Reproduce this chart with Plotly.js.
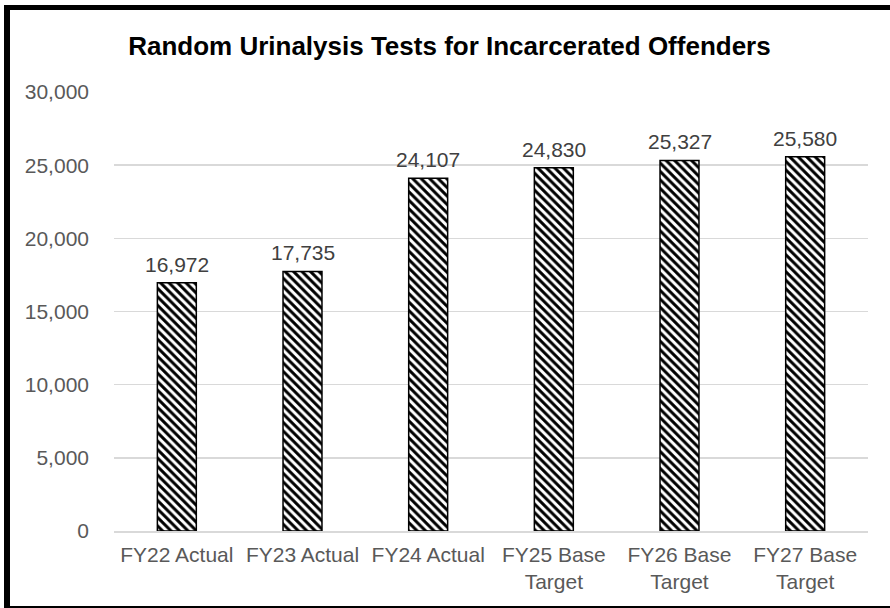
<!DOCTYPE html>
<html>
<head>
<meta charset="utf-8">
<script src="https://cdn.plot.ly/plotly-3.0.1.min.js"></script>
<style>
html,body{margin:0;padding:0;background:#fff;}
#wrap{position:relative;width:890px;height:608px;overflow:hidden;}
#chart{position:absolute;left:0;top:0;width:890px;height:608px;}
#frame{position:absolute;left:4px;top:5px;width:900px;height:603px;box-sizing:border-box;border-left:6px solid #000;border-top:5px solid #000;border-bottom:2px solid #000;pointer-events:none;}
</style>
</head>
<body>
<div id="wrap"><div id="chart"></div><div id="frame"></div></div>
<script>
var categories = ["FY22 Actual", "FY23 Actual", "FY24 Actual", "FY25 Base<br>Target", "FY26 Base<br>Target", "FY27 Base<br>Target"];
var values = [16972, 17735, 24107, 24830, 25327, 25580];
var labels = ["16,972", "17,735", "24,107", "24,830", "25,327", "25,580"];
var tickVals = [0, 5000, 10000, 15000, 20000, 25000, 30000];
var tickText = ["0", "5,000", "10,000", "15,000", "20,000", "25,000", "30,000"];

var font = "Liberation Sans, Arial, sans-serif";
var trace = {
  type: "bar",
  x: categories,
  y: values,
  marker: {
    color: "#ffffff",
    line: {color: "#000000", width: 1.5},
    pattern: {shape: "\\", fgcolor: "#000000", bgcolor: "#ffffff", size: 6, solidity: 0.5, fillmode: "replace"}
  },
  hoverinfo: "none"
};
var annotations = categories.map(function (c, i) {
  return {
    x: c, y: values[i], xref: "x", yref: "y",
    text: labels[i], showarrow: false,
    xanchor: "center", yanchor: "bottom", yshift: 5,
    font: {family: font, size: 21, color: "#404040"}
  };
});
var layout = {
  width: 890, height: 608,
  margin: {l: 114, r: 22, t: 92, b: 77},
  paper_bgcolor: "#ffffff", plot_bgcolor: "#ffffff",
  showlegend: false,
  bargap: 0.69,
  annotations: annotations,
  title: {text: "<b>Random Urinalysis Tests for Incarcerated Offenders</b>", font: {family: font, size: 26, color: "#000000"}, x: 0.505, xanchor: "center", xref: "container", y: 0.925, yanchor: "middle", yref: "container"},
  xaxis: {
    type: "category",
    tickfont: {family: font, size: 21, color: "#595959"},
    showgrid: false, showline: true, linecolor: "#d9d9d9", linewidth: 1.5,
    ticks: "", ticklabelstandoff: 4, automargin: false
  },
  yaxis: {
    range: [0, 30000],
    tickvals: tickVals, ticktext: tickText,
    tickfont: {family: font, size: 21, color: "#595959"},
    showgrid: true, gridcolor: "#d9d9d9", gridwidth: 1.5,
    zeroline: false, showline: false,
    ticks: "", ticklabelstandoff: 24, automargin: false
  }
};
Plotly.newPlot("chart", [trace], layout, {displayModeBar: false, staticPlot: true});
</script>
</body>
</html>
